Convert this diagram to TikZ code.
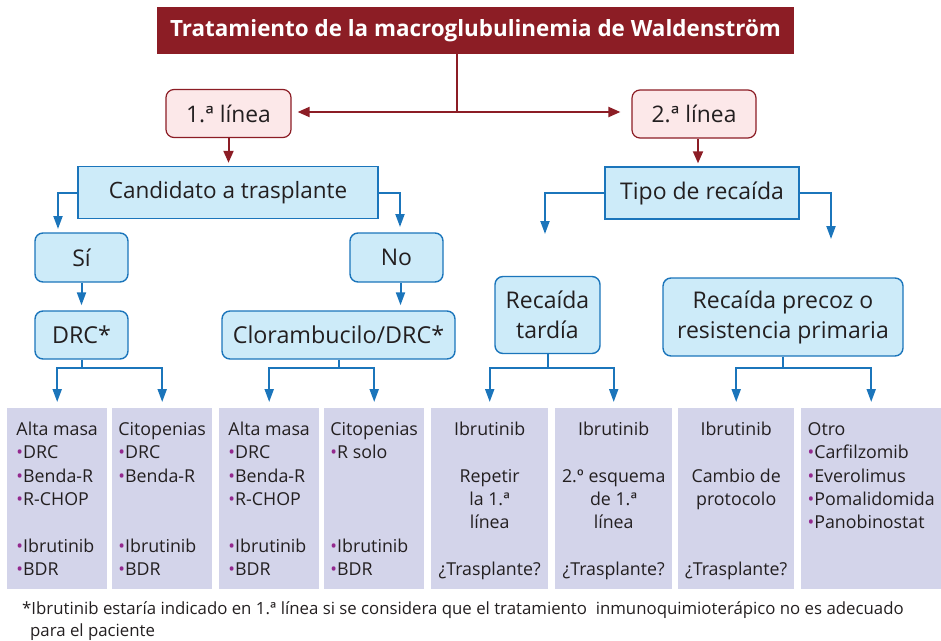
\documentclass[tikz,border=0pt]{standalone}
\usepackage{fontspec}
\setmainfont{Open Sans}
\newfontfamily\ptfont{PT Sans}
\usepackage{xcolor}
\usetikzlibrary{positioning, arrows.meta}
\definecolor{WmRed}{HTML}{8C1D25}
\definecolor{WmPink}{HTML}{FCE8E9}
\definecolor{WmBlue}{HTML}{1B75BB}
\definecolor{WmSky}{HTML}{CDEBF9}
\definecolor{WmLilac}{HTML}{D3D4EA}
\definecolor{WmDot}{HTML}{93288E}
\definecolor{WmInk}{HTML}{231F20}
\newcommand{\bu}{\textcolor{WmDot}{\textbullet}}
\newcommand{\orda}{{\ptfont ª}}
\newcommand{\ordo}{{\ptfont º}}

\begin{document}
\begin{tikzpicture}[x=1pt,y=-1pt,
  titlebox/.style={fill=WmRed, text=white, font=\bfseries\fontsize{22.4}{26}\selectfont,
    minimum width=637pt, minimum height=47pt, inner sep=0pt},
  linebox/.style={draw=WmRed, line width=1.2pt, fill=WmPink, rounded corners=8pt, text=WmInk,
    font=\fontsize{22.8}{26}\selectfont, minimum height=48pt, inner sep=0pt},
  qbox/.style={draw=WmBlue, line width=1.4pt, fill=WmSky, text=WmInk,
    font=\fontsize{23}{30}\selectfont, minimum height=52pt, inner sep=0pt, align=center},
  optbox/.style={qbox, rounded corners=8pt, minimum height=48pt},
  colbox/.style={fill=WmLilac, minimum height=181pt, inner sep=0pt, anchor=north west},
  coltext/.style={anchor=north, inner sep=0pt, text=WmInk, font=\fontsize{17.8}{23.3}\selectfont},
  redarr/.style={WmRed, line width=2pt, -{Triangle[length=12pt,width=10pt]}},
  bluearr/.style={WmBlue, line width=2pt, -{Triangle[length=13pt,width=9pt]}}]
\useasboundingbox (0,0) rectangle (941,640);

% top of the tree
\node[titlebox] (title) at (475.5,30.5) {Tratamiento de la macroglubulinemia de Waldenström};
\node[linebox, minimum width=125pt] (l1) at (228.5,113.5) {1.\orda{} línea};
\node[linebox, minimum width=124pt] (l2) at (694,114) {2.\orda{} línea};
\coordinate (hub) at (457,112);
\draw[WmRed, line width=2pt] (title.south -| hub) -- (hub);
\draw[redarr, shorten >=6pt] (hub) -- (hub -| l1.east);
\draw[redarr, shorten >=11pt] (hub) -- (hub -| l2.west);

% blue boxes
\node[qbox, minimum width=300pt, font=\fontsize{22.5}{30}\selectfont] (cand) at (228,192.5) {Candidato a trasplante};
\node[qbox, minimum width=194pt] (tipo) at (702,193) {Tipo de recaída};
\draw[redarr, shorten >=3pt] (l1.south) -- (l1.south |- cand.north);
\draw[redarr, shorten >=3pt] (l2.south) ++(4,0) coordinate (l2out) -- (l2out |- tipo.north);

\node[optbox, minimum width=93pt, minimum height=49pt] (si) at (81.5,257.5) {Sí};
\node[optbox, minimum width=93pt, minimum height=49pt] (no) at (396.5,257.5) {No};
\node[optbox, minimum width=93pt, font=\fontsize{23.3}{30}\selectfont] (drc) at (81.5,335) {DRC*};
\node[optbox, minimum width=233pt, font=\fontsize{23.3}{30}\selectfont] (clor) at (338.5,335) {Clorambucilo/DRC*};
\node[optbox, minimum width=105pt, minimum height=77pt] (tard) at (547.5,315) {Recaída\\tardía};
\node[optbox, minimum width=240pt, minimum height=78pt] (prec) at (783,317) {Recaída precoz o\\resistencia primaria};

\coordinate (siin) at (58,229);
\coordinate (noin) at (400,227);
\coordinate (tardin) at (545,234);
\coordinate (precin) at (831,239);
\draw[bluearr] (cand.west) -| (siin);
\draw[bluearr] (cand.east) -| (noin);
\draw[bluearr] (tipo.west) -| (tardin);
\draw[bluearr] (tipo.east) -| (precin);
\draw[bluearr, shorten >=5pt] (si.south) -- (si.south |- drc.north);
\draw[bluearr, shorten >=5pt] ([xshift=4pt]no.south) -- ([xshift=4pt]no.south |- clor.north);

% columns
\node[colbox, minimum width=100pt] (c1) at (7,408) {};
\node[colbox, minimum width=100pt] (c2) at (112,408) {};
\node[colbox, minimum width=100pt] (c3) at (219,408) {};
\node[colbox, minimum width=100pt] (c4) at (324,408) {};
\node[colbox, minimum width=117pt] (c5) at (431,408) {};
\node[colbox, minimum width=117pt] (c6) at (555,408) {};
\node[colbox, minimum width=116pt] (c7) at (678,408) {};
\node[colbox, minimum width=140pt] (c8) at (801,408) {};

\coordinate (fan) at (0,368);
\foreach \src/\a/\b in {drc/c1/c2, clor/c3/c4, tard/c5/c6, prec/c7/c8}{
  \draw[WmBlue, line width=2pt] (\src.south) -- (\src.south |- fan);
  \draw[bluearr] (\src.south |- fan) -| ([yshift=6pt]\a.north);
  \draw[bluearr] (\src.south |- fan) -| ([yshift=6pt]\b.north);
}

\node[coltext, align=left] (t1) at ([yshift=-11pt]c1.north) {\strut Alta masa\\\bu DRC\\\bu Benda-R\\\bu R-CHOP\\[23.3pt]\bu Ibrutinib\\\bu BDR};
\node[coltext, align=left] (t2) at ([yshift=-11pt]c2.north) {\strut Citopenias\\\bu DRC\\\bu Benda-R\\[46.6pt]\bu Ibrutinib\\\bu BDR};
\node[coltext, align=left] (t3) at ([yshift=-11pt]c3.north) {\strut Alta masa\\\bu DRC\\\bu Benda-R\\\bu R-CHOP\\[23.3pt]\bu Ibrutinib\\\bu BDR};
\node[coltext, align=left] (t4) at ([yshift=-11pt]c4.north) {\strut Citopenias\\\bu R solo\\[69.9pt]\bu Ibrutinib\\\bu BDR};
\node[coltext, align=center] (t5) at ([yshift=-11pt]c5.north) {\strut Ibrutinib\\[23.3pt]Repetir\\la 1.\orda\\línea\\[23.3pt]¿Trasplante?};
\node[coltext, align=center] (t6) at ([yshift=-11pt]c6.north) {\strut Ibrutinib\\[23.3pt]2.\ordo{} esquema\\de 1.\orda\\línea\\[23.3pt]¿Trasplante?};
\node[coltext, align=center] (t7) at ([yshift=-11pt]c7.north) {\strut Ibrutinib\\[23.3pt]Cambio de\\protocolo\\[46.6pt]¿Trasplante?};
\node[coltext, align=left] (t8) at ([yshift=-11pt]c8.north) {\strut Otro\\\bu Carfilzomib\\\bu Everolimus\\\bu Pomalidomida\\\bu Panobinostat};

% footnote
\node[anchor=north west, inner sep=0pt, align=left, text=WmInk, font=\fontsize{16.8}{22}\selectfont] (note) at (22,599)
  {\strut*Ibrutinib estaría indicado en 1.\orda{} línea si se considera que el tratamiento~ inmunoquimioterápico no es adecuado\\\hspace*{8pt}para el paciente};
\end{tikzpicture}
\end{document}
